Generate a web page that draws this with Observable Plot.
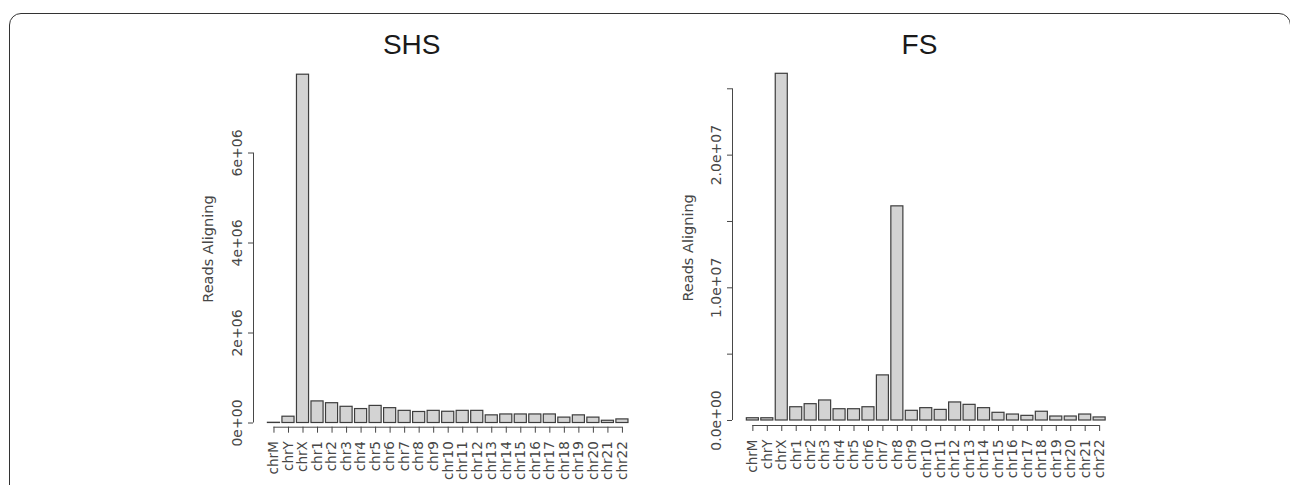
<!DOCTYPE html>
<html><head><meta charset="utf-8">
<script src="https://cdn.jsdelivr.net/npm/d3@7"></script>
<script src="https://cdn.jsdelivr.net/npm/@observablehq/plot@0.6"></script>
<style>
body{margin:0;background:#fff;}
#wrap{position:relative;width:1290px;height:485px;overflow:hidden;background:#fff;}
#frame{position:absolute;left:9px;top:13px;width:1282px;height:540px;box-sizing:border-box;border:1.6px solid #333;border-radius:12px;}
.title{position:absolute;top:31px;line-height:28px;font-family:"Liberation Sans",Arial,sans-serif;font-size:28px;color:#1a1a1a;transform:translateX(-50%);white-space:nowrap;}
.panel{position:absolute;top:0;}
.panel svg{font-family:"DejaVu Sans",sans-serif;}
.panel svg g[aria-label="y-axis tick label"]{font-size:14px;}
.panel svg g[aria-label="x-axis tick label"]{font-size:13.5px;}
.panel svg g[aria-label="text"]{font-size:14.5px;}
</style></head>
<body>
<div id="wrap">
  <div id="frame"></div>
  <div class="title" style="left:411.7px">SHS</div>
  <div class="title" style="left:919.5px">FS</div>
  <div class="panel" id="p1" style="left:0px"></div>
  <div class="panel" id="p2" style="left:660px"></div>
</div>
<script>
const chromosomes = ["chrM","chrY","chrX","chr1","chr2","chr3","chr4","chr5","chr6","chr7","chr8","chr9","chr10","chr11","chr12","chr13","chr14","chr15","chr16","chr17","chr18","chr19","chr20","chr21","chr22"];
const shsReads = [0.005e6,0.14e6,7.74e6,0.48e6,0.44e6,0.36e6,0.31e6,0.38e6,0.33e6,0.27e6,0.245e6,0.27e6,0.25e6,0.27e6,0.27e6,0.17e6,0.19e6,0.19e6,0.19e6,0.19e6,0.12e6,0.17e6,0.12e6,0.05e6,0.08e6];
const fsReads = [0.17e6,0.17e6,26.13e6,1.0e6,1.23e6,1.51e6,0.85e6,0.85e6,1.0e6,3.4e6,16.14e6,0.73e6,0.93e6,0.8e6,1.36e6,1.18e6,0.93e6,0.58e6,0.45e6,0.35e6,0.66e6,0.30e6,0.30e6,0.45e6,0.23e6];
const shsYTicks = [0, 2e6, 4e6, 6e6];
const shsYLabelled = [0, 2e6, 4e6, 6e6];
const fsYTicks = [0, 5e6, 1e7, 1.5e7, 2e7, 2.5e7];
const fsYLabelled = [0, 1e7, 2e7];
const yTitle = "Reads Aligning";

// R barplot geometry: width 1, space 0.2
const left = i => 0.2 + 1.2 * i;
const center = i => 0.7 + 1.2 * i;
const xLo = -0.992, xHi = 31.192;
const centers = chromosomes.map((c, i) => center(i));
const nameAt = v => chromosomes[Math.round((v - 0.7) / 1.2)];

function sci(v, digits) {
  return v.toExponential(digits).replace(/e([+-])(\d)$/, "e$10$2");
}

function panel({values, yTicks, yLabelled, digits, yLo, yHi, width, marginLeft, marginRight, marginTop, marginBottom, titleDx}) {
  return Plot.plot({
    width, height: 485,
    marginLeft, marginRight, marginTop, marginBottom,
    style: {fontFamily: "DejaVu Sans, sans-serif", fontSize: "14px", color: "#474747", background: "transparent", overflow: "visible"},
    x: {type: "linear", domain: [xLo, xHi]},
    y: {type: "linear", domain: [yLo, yHi]},
    marks: [
      Plot.rectY(values, {x1: (d, i) => left(i), x2: (d, i) => left(i) + 1, y1: 0, y2: d => d, fill: "#d3d3d3", stroke: "#3d3d3d", strokeWidth: 1.2}),
      Plot.ruleX([xLo], {y1: d3.min(yTicks), y2: d3.max(yTicks), stroke: "#474747"}),
      Plot.axisY({ticks: yTicks, tickSize: 5, tickRotate: -90, tickPadding: 7,
        tickFormat: d => yLabelled.includes(d) ? sci(d, digits) : ""}),
      Plot.ruleY([yLo], {x1: d3.min(centers), x2: d3.max(centers), stroke: "#474747"}),
      Plot.axisX({ticks: centers, tickSize: 6, tickRotate: -90, tickPadding: 8, tickFormat: nameAt}),
      Plot.text([yTitle], {text: d => d, frameAnchor: "left", textAnchor: "middle", rotate: -90, dx: titleDx, dy: 4, fill: "#474747"})
    ]
  });
}

document.getElementById("p1").append(panel({
  values: shsReads, yTicks: shsYTicks, yLabelled: shsYLabelled, digits: 0,
  yLo: -0.0933e6, yHi: 8e6, width: 660, marginLeft: 253, marginRight: 17.6,
  marginTop: 62.5, marginBottom: 58.3, titleDx: -45
}));
document.getElementById("p2").append(panel({
  values: fsReads, yTicks: fsYTicks, yLabelled: fsYLabelled, digits: 1,
  yLo: -0.0377e7, yHi: 2.7e7, width: 630, marginLeft: 72, marginRight: 170.5,
  marginTop: 61.75, marginBottom: 60, titleDx: -44
}));
</script>
</body></html>
